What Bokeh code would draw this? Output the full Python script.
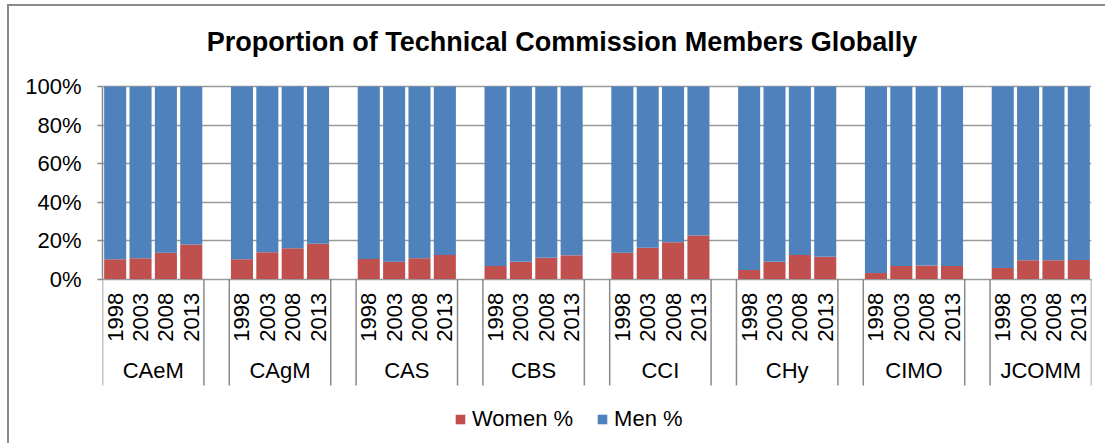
from math import pi
from bokeh.plotting import figure
from bokeh.models import (ColumnDataSource, FactorRange, Range1d, FixedTicker,
                          PrintfTickFormatter, Label)
from bokeh.transform import dodge
from bokeh.core.properties import value
from bokeh.embed import file_html
from bokeh.resources import INLINE

# ---- data ----
groups = ["CAeM", "CAgM", "CAS", "CBS", "CCI", "CHy", "CIMO", "JCOMM"]
years = ["1998", "2003", "2008", "2013"]
women_caem = [10.3, 10.8, 13.6, 17.9]
women_cagm = [10.3, 13.9, 16.0, 18.3]
women_cas = [10.4, 9.0, 10.8, 12.5]
women_cbs = [6.8, 8.9, 11.0, 12.3]
women_cci = [13.6, 16.2, 19.1, 22.6]
women_chy = [4.7, 8.9, 12.5, 11.5]
women_cimo = [3.1, 6.8, 7.0, 6.8]
women_jcomm = [5.7, 9.7, 9.7, 9.9]
y_ticks = [0, 20, 40, 60, 80, 100]
title_text = "Proportion of Technical Commission Members Globally"

women_all = [women_caem, women_cagm, women_cas, women_cbs,
             women_cci, women_chy, women_cimo, women_jcomm]

xs, women, men, yr = [], [], [], []
for g, wl in zip(groups, women_all):
    for y, w in zip(years, wl):
        xs.append((g, y))
        women.append(w)
        men.append(100 - w)
        yr.append(y)

src = ColumnDataSource(dict(x=xs, women=women, men=men, year=yr))
grp_src = ColumnDataSource(dict(
    g=groups,
    first=[(g, years[0]) for g in groups],
    last=[(g, years[-1]) for g in groups],
))

RED = "#C0504D"
BLUE = "#4F81BD"
GRAY = "#8a8a8a"
FONT = value("Liberation Sans")

p = figure(width=1098, height=439,
           x_range=FactorRange(factors=xs, group_padding=1.0, range_padding=0.0),
           y_range=Range1d(-86.49, 141.56),
           output_backend="svg", toolbar_location=None, x_axis_location=None,
           min_border_left=93, min_border_right=16,
           min_border_top=0, min_border_bottom=0)
p.styles = {"margin-left": "7px", "margin-top": "4px",
            "border-left": "2px solid #8a8a8a", "border-top": "2px solid #8a8a8a"}
p.outline_line_color = None
p.background_fill_color = "white"
p.xgrid.visible = False

# y axis
ya = p.yaxis[0]
ya.ticker = FixedTicker(ticks=y_ticks)
ya.bounds = (0, 100)
ya.formatter = PrintfTickFormatter(format="%d%%")
ya.major_tick_out = 5
ya.major_tick_in = 0
ya.minor_tick_out = 0
ya.minor_tick_in = 0
ya.axis_line_color = GRAY
ya.axis_line_width = 1.5
ya.major_tick_line_color = GRAY
ya.major_tick_line_width = 1.5
ya.major_label_text_font = "Liberation Sans"
ya.major_label_text_font_size = "22px"
ya.major_label_text_color = "black"
ya.major_label_standoff = 16

p.ygrid.grid_line_color = "#9a9a9a"
p.ygrid.grid_line_width = 1.5

# bars
p.vbar_stack(["women", "men"], x="x", width=0.87, source=src,
             fill_color=[RED, BLUE], line_color=None,
             legend_label=["Women %", "Men %"])

# separators between groups
for col, off in (("first", -0.5), ("last", 0.5)):
    p.segment(x0=dodge(col, off, range=p.x_range), y0=0,
              x1=dodge(col, off, range=p.x_range), y1=-55.3,
              source=grp_src, line_color=GRAY, line_width=1.5)

# year labels (vertical)
p.text(x="x", y=-7.2, text="year", source=src, angle=pi / 2,
       text_align="right", text_baseline="middle",
       text_font=FONT, text_font_size="22px", text_color="black")

# group labels
p.text(x="g", y=-47.5, text="g", source=grp_src,
       text_align="center", text_baseline="middle",
       text_font=FONT, text_font_size="22px", text_color="black")

# title
p.add_layout(Label(x=459.5, y=404, x_units="screen", y_units="screen",
                   text=title_text, text_align="center",
                   text_baseline="alphabetic", text_font="Liberation Sans",
                   text_font_style="bold", text_font_size="27px",
                   text_color="black"))

# legend
lg = p.legend[0]
lg.orientation = "horizontal"
lg.location = (352, 13)
lg.glyph_width = 12
lg.glyph_height = 12
lg.label_standoff = 6
lg.spacing = 23
lg.padding = 0
lg.margin = 0
lg.border_line_color = None
lg.background_fill_alpha = 0
lg.label_text_font = "Liberation Sans"
lg.label_text_font_size = "22px"
lg.label_text_color = "black"

open("out.html", "w").write(file_html(p, INLINE))
